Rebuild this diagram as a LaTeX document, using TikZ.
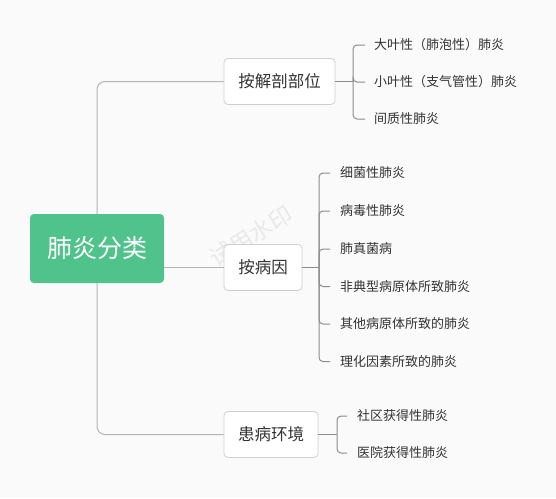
\documentclass[tikz,border=0pt]{standalone}
\usepackage{fontspec}
\setmainfont{Noto Sans CJK SC}
\definecolor{bg}{HTML}{FAFAFA}
\definecolor{rootg}{HTML}{4FC38B}
\definecolor{trunk}{HTML}{B4B4B4}
\definecolor{brk}{HTML}{8C8C8C}
\definecolor{boxb}{HTML}{CFCFCF}
\definecolor{txt}{HTML}{333333}
\definecolor{wm}{HTML}{E8E8E8}
\tikzset{
  rootbox/.style={fill=rootg, rounded corners=4pt, text=white, font=\fontsize{25}{28}\selectfont, minimum width=134pt, minimum height=69pt, inner sep=0pt},
  catbox/.style={draw=boxb, fill=white, rounded corners=4pt, text=txt, font=\fontsize{16.5}{19}\selectfont, minimum height=46pt, inner sep=0pt, line width=0.8pt},
  leaf/.style={anchor=west, inner sep=0pt, text=txt, font=\fontsize{13}{15}\selectfont},
  trunkline/.style={draw=trunk, line width=1pt, rounded corners=8pt},
  stemline/.style={draw=brk, line width=1.8pt},
  brkline/.style={draw=brk, line width=1pt, rounded corners=4pt},
}
\begin{document}
\begin{tikzpicture}[x=1pt,y=-1pt]
\fill[bg] (0,0) rectangle (556,498);
\useasboundingbox (0,0) rectangle (556,498);
% watermark
\node[text=wm, rotate=32, font=\fontsize{23}{26}\selectfont] (wmk) at (251,236) {试用水印};
% root
\node[rootbox] (root) at (97,248.5) {肺炎分类};
% categories
\node[catbox, minimum width=111pt] (b1) at (279.5,81.5) {按解剖部位};
\node[catbox, minimum width=78pt] (b2) at (263,267.5) {按病因};
\node[catbox, minimum width=94pt] (b3) at (271,434.5) {患病环境};
% trunk connectors
\draw[trunkline] (root.north) |- (b1.west);
\draw[trunkline] (b2.west -| root.east) -- (b2.west);
\draw[trunkline] (root.south) |- (b3.west);
% leaves group 1
\node[leaf] (l11) at (374,45) {大叶性（肺泡性）肺炎};
\node[leaf] (l12) at (374,82) {小叶性（支气管性）肺炎};
\node[leaf] (l13) at (374,119) {间质性肺炎};
\coordinate (j1) at (353,81.5);
\draw[stemline] (b1.east) -- (j1);
\foreach \l in {l11,l12,l13} \draw[brkline] (j1) |- ([xshift=-9pt]\l.west);
% leaves group 2
\node[leaf] (l21) at (340,173) {细菌性肺炎};
\node[leaf] (l22) at (340,211) {病毒性肺炎};
\node[leaf] (l23) at (340,249) {肺真菌病};
\node[leaf] (l24) at (340,286.5) {非典型病原体所致肺炎};
\node[leaf] (l25) at (340,324) {其他病原体所致的肺炎};
\node[leaf] (l26) at (340,361.5) {理化因素所致的肺炎};
\coordinate (j2) at (319,267.5);
\draw[stemline] (b2.east) -- (j2);
\foreach \l in {l21,l22,l23,l24,l25,l26} \draw[brkline] (j2) |- ([xshift=-10pt]\l.west);
% leaves group 3
\node[leaf] (l31) at (357,416) {社区获得性肺炎};
\node[leaf] (l32) at (357,453) {医院获得性肺炎};
\coordinate (j3) at (337,434.5);
\draw[stemline] (b3.east) -- (j3);
\foreach \l in {l31,l32} \draw[brkline] (j3) |- ([xshift=-10pt]\l.west);
\end{tikzpicture}
\end{document}
